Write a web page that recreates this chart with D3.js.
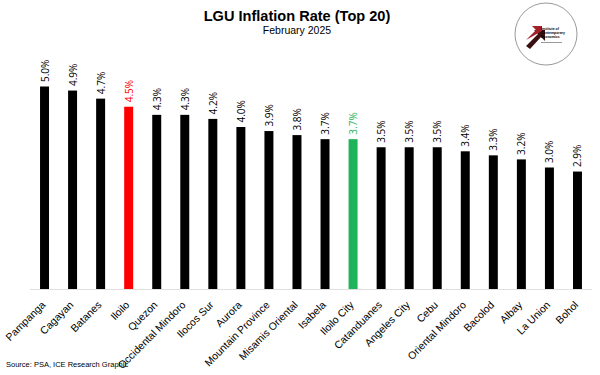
<!DOCTYPE html>
<html lang="en">
<head>
	<meta charset="utf-8">
	<title>LGU Inflation Rate (Top 20)</title>
	<script src="https://d3js.org/d3.v7.min.js"></script>
	<style>
		body { margin: 0; background: #fff; }
	</style>
</head>
<body>
	<div id="chart"></div>
	<script>
		// data
		let lgus = ["Pampanga", "Cagayan", "Batanes", "Iloilo", "Quezon", "Occidental Mindoro",
			"Ilocos Sur", "Aurora", "Mountain Province", "Misamis Oriental", "Isabela", "Iloilo City",
			"Catanduanes", "Angeles City", "Cebu", "Oriental Mindoro", "Bacolod", "Albay", "La Union", "Bohol"];
		let rates = [5.0, 4.9, 4.7, 4.5, 4.3, 4.3, 4.2, 4.0, 3.9, 3.8, 3.7, 3.7, 3.5, 3.5, 3.5, 3.4, 3.3, 3.2, 3.0, 2.9];
		let highlights = { "Iloilo": "#ff0000", "Iloilo City": "#1fb35a" };

		let width = 600;
		let height = 375;
		let baseY = 289;

		let data = lgus.map((name, i) => ({ name: name, value: rates[i] }));

		let svg = d3.select("#chart")
			.append("svg")
			.attr("width", width)
			.attr("height", height);

		// scales
		let x = d3.scaleBand()
			.domain(lgus)
			.range([30.5, 591.5])
			.paddingInner(0.68)
			.paddingOuter(0.34);
		let y = d3.scaleLinear()
			.domain([0, 5])
			.range([baseY, 86.5]);

		// title (slightly condensed like the original)
		svg.append("text")
			.attr("transform", "translate(297,21) scale(0.94,1)")
			.attr("text-anchor", "middle")
			.style("font-family", "'Liberation Sans', Arial, sans-serif")
			.style("font-weight", "bold")
			.style("font-size", "15.5px")
			.text("LGU Inflation Rate (Top 20)");
		svg.append("text")
			.attr("x", 297)
			.attr("y", 33.5)
			.attr("text-anchor", "middle")
			.style("font-family", "'Liberation Sans', Arial, sans-serif")
			.style("font-size", "10.5px")
			.text("February 2025");

		// baseline
		svg.append("line")
			.attr("x1", 30).attr("x2", 592)
			.attr("y1", baseY + 0.5).attr("y2", baseY + 0.5)
			.attr("stroke", "#e0e0e0")
			.attr("stroke-width", 1);

		// bars
		svg.selectAll("rect.bar")
			.data(data)
			.enter()
			.append("rect")
			.attr("class", "bar")
			.attr("x", d => x(d.name))
			.attr("width", x.bandwidth())
			.attr("y", d => y(d.value))
			.attr("height", d => y(0) - y(d.value))
			.attr("fill", d => highlights[d.name] || "#000");

		// value labels
		svg.selectAll("text.val")
			.data(data)
			.enter()
			.append("text")
			.attr("class", "val")
			.attr("transform", d => "translate(" + (x(d.name) + x.bandwidth() / 2 + 4) + "," + (y(d.value) - 4.5) + ") rotate(-90)")
			.style("font-family", "'Open Sans', 'DejaVu Sans', sans-serif")
			.style("font-size", "10px")
			.attr("fill", d => highlights[d.name] || "#000")
			.text(d => d.value.toFixed(1) + "%");

		// category labels
		let xAxis = svg.append("g")
			.attr("transform", "translate(0," + (baseY + 1) + ")")
			.call(d3.axisBottom(x).tickSize(0).tickPadding(0));
		xAxis.select(".domain").remove();
		xAxis.selectAll("text")
			.attr("text-anchor", "end")
			.attr("dy", 0)
			.attr("y", 0)
			.attr("transform", "translate(1.5,15.5) rotate(-45)")
			.style("font-family", "'Liberation Sans', Arial, sans-serif")
			.style("font-size", "10.5px")
			.attr("fill", "#000");

		// source note
		svg.append("text")
			.attr("x", 6)
			.attr("y", 367)
			.style("font-family", "'Liberation Sans', Arial, sans-serif")
			.style("font-size", "7.5px")
			.text("Source: PSA, ICE Research Graphic");

		// logo
		let logo = svg.append("g").attr("transform", "translate(546,34)");
		logo.append("circle")
			.attr("r", 31)
			.attr("fill", "#fff")
			.attr("stroke", "#9a9a9a")
			.attr("stroke-width", 1);
		logo.append("path")
			.attr("d", "M-20,12 L-8,0 L-12,-4 L-1,-4 L-1,7 L-5,3 L-16,15 Z")
			.attr("fill", "#3a1010");
		logo.append("path")
			.attr("d", "M-20,6 L-10,-4 L-14,-8 L-4,-8 L-4,-3 Z")
			.attr("fill", "#a31f2a");
		let logoText = ["Institute of", "Contemporary", "Economics"];
		logo.selectAll("text.logo")
			.data(logoText)
			.enter()
			.append("text")
			.attr("x", -5)
			.attr("y", (d, i) => -4 + i * 4)
			.style("font-family", "'Liberation Sans', Arial, sans-serif")
			.style("font-size", "3.5px")
			.style("font-weight", "bold")
			.text(d => d);
		logo.append("line")
			.attr("x1", -5).attr("x2", 16)
			.attr("y1", 8.5).attr("y2", 8.5)
			.attr("stroke", "#555")
			.attr("stroke-width", 0.6);
	</script>
</body>
</html>
